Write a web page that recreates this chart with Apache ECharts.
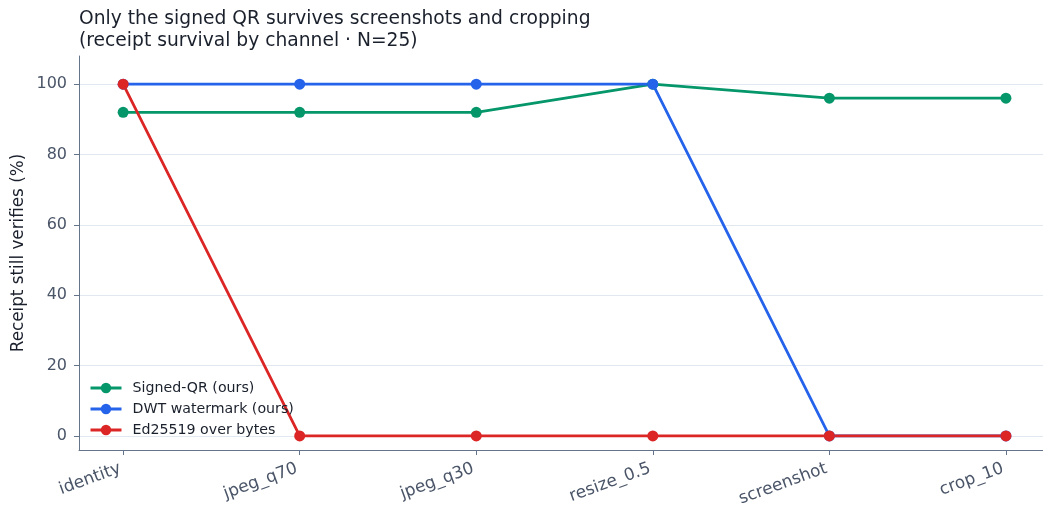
<!DOCTYPE html>
<html>
<head>
<meta charset="utf-8">
<script src="https://cdn.jsdelivr.net/npm/echarts@6/dist/echarts.min.js"></script>
<style>html,body{margin:0;padding:0;background:#fff;}#c{width:1043px;height:508px;}</style>
</head>
<body>
<div id="c"></div>
<script>
const categories = ['identity', 'jpeg_q70', 'jpeg_q30', 'resize_0.5', 'screenshot', 'crop_10'];
const signedQR = [92, 92, 92, 100, 96, 96];
const dwtWatermark = [100, 100, 100, 100, 0, 0];
const ed25519 = [100, 0, 0, 0, 0, 0];
const yTicks = [0, 20, 40, 60, 80, 100];
const seriesNames = ['Signed-QR (ours)', 'DWT watermark (ours)', 'Ed25519 over bytes'];
const colors = ['#059669', '#2563eb', '#dc2626'];

const chart = echarts.init(document.getElementById('c'), null, {renderer: 'canvas'});
const font = 'DejaVu Sans';
const idx = categories.map((_, i) => i);
function mk(name, vals, color) {
  return {
    name: name, type: 'line', data: vals.map((v, i) => [i, v]),
    symbol: 'circle', symbolSize: 11,
    lineStyle: {width: 2.8, color: color},
    itemStyle: {color: color},
    emphasis: {disabled: true},
    animation: false
  };
}
chart.setOption({
  backgroundColor: '#fff',
  textStyle: {fontFamily: font},
  title: {
    text: 'Only the signed QR survives screenshots and cropping\n(receipt survival by channel · N=25)',
    left: 74, top: 3,
    textStyle: {fontFamily: font, fontSize: 18.7, fontWeight: 'normal', color: '#1a202c', lineHeight: 22}
  },
  grid: {left: 79, top: 56, bottom: 58, right: 0, containLabel: false, outerBoundsMode: 'none'},
  legend: {
    orient: 'vertical', left: 84, top: 376,
    itemWidth: 31, itemHeight: 13, itemGap: 7,
    lineStyle: {width: 3},
    textStyle: {fontFamily: font, fontSize: 14.2, color: '#1a202c', padding: [0, 0, 0, 6]},
    data: seriesNames,
    selectedMode: false
  },
  xAxis: {
    type: 'value', min: -0.25, max: 5.21,
    axisLine: {show: true, onZero: false, lineStyle: {color: '#64748b', width: 1}},
    axisTick: {show: true, customValues: idx, length: 5, lineStyle: {color: '#64748b'}},
    axisLabel: {
      customValues: idx, rotate: 20, margin: 17,
      formatter: v => categories[Math.round(v)],
      fontFamily: font, fontSize: 16.9, color: '#4a5568', padding: [0, 3, 0, 0]
    },
    splitLine: {show: false}
  },
  yAxis: {
    type: 'value', min: -4, max: 108,
    name: 'Receipt still verifies (%)', nameLocation: 'middle', nameGap: 52,
    nameMoveOverlap: false,
    nameTextStyle: {fontFamily: font, fontSize: 16.8, color: '#1a202c'},
    axisLine: {show: true, onZero: false, lineStyle: {color: '#64748b', width: 1}},
    axisTick: {show: true, customValues: yTicks, length: 5, lineStyle: {color: '#64748b'}},
    axisLabel: {customValues: yTicks, fontFamily: font, fontSize: 16, color: '#4a5568', margin: 12},
    splitLine: {show: true, customValues: yTicks, lineStyle: {color: '#e2e8f0', width: 1}}
  },
  series: [
    mk(seriesNames[0], signedQR, colors[0]),
    mk(seriesNames[1], dwtWatermark, colors[1]),
    mk(seriesNames[2], ed25519, colors[2])
  ]
});
</script>
</body>
</html>
